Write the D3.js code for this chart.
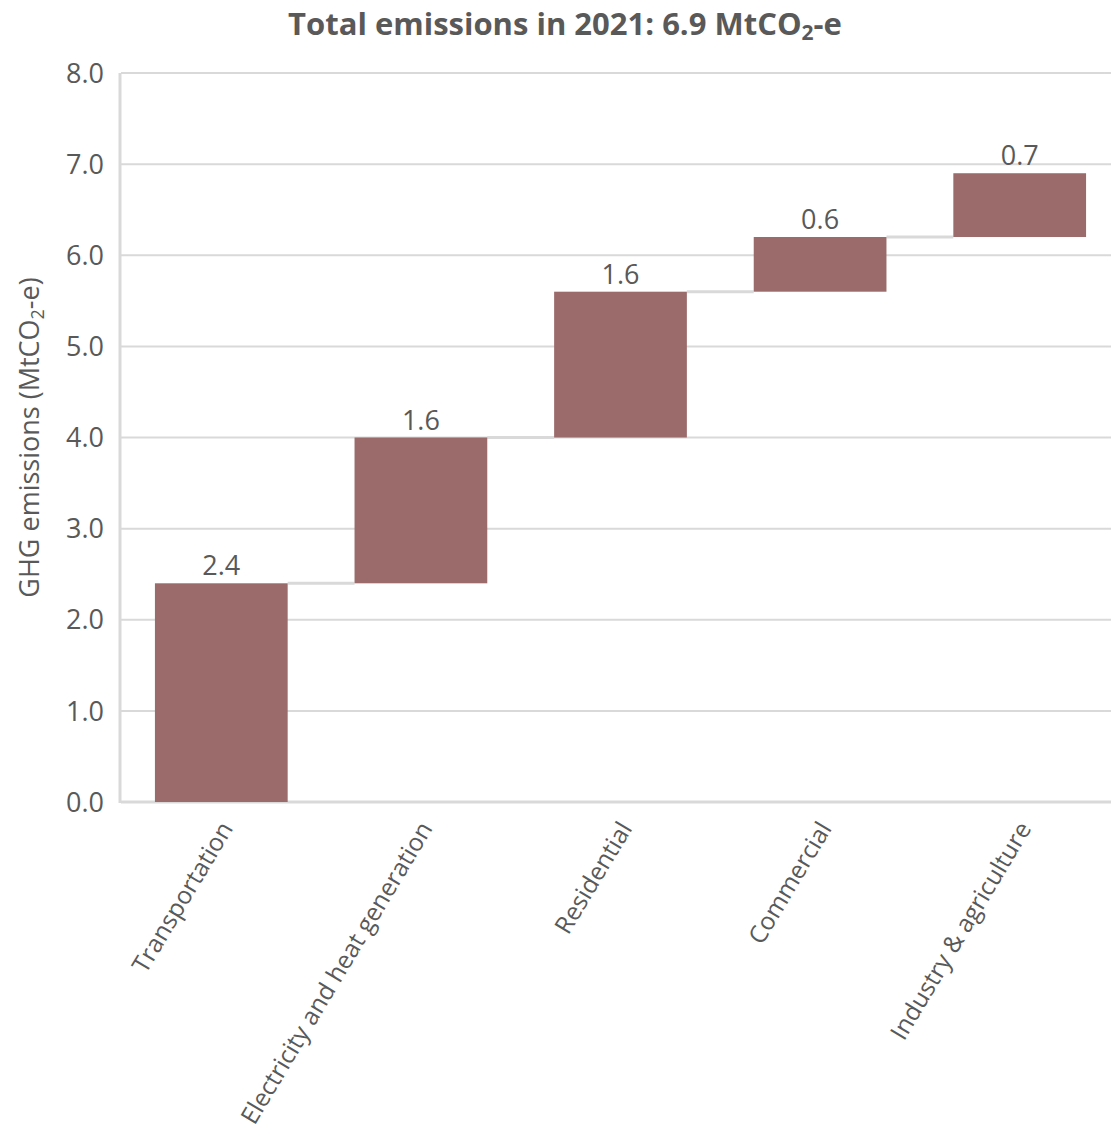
<!DOCTYPE html>
<html lang="en">
<head>
<meta charset="UTF-8">
<title>Total emissions in 2021</title>
<script src="https://d3js.org/d3.v7.min.js"></script>
<style>
  body { margin: 0; background: #fff; }
  text { font-family: "Open Sans", sans-serif; fill: #595959; }
</style>
</head>
<body>
<div id="chart"></div>
<script>
// sectors and their contribution (MtCO2-e)
const sectors = ["Transportation", "Electricity and heat generation", "Residential", "Commercial", "Industry & agriculture"];
const contributions = [2.4, 1.6, 1.6, 0.6, 0.7];
const yTicks = [0, 1, 2, 3, 4, 5, 6, 7, 8];

const width = 1111, height = 1134;
const margin = { top: 73, right: -9, bottom: 332, left: 121 };

// running totals for the waterfall
let run = 0;
const steps = sectors.map((s, i) => {
    const start = run;
    run = +(run + contributions[i]).toFixed(2);
    return { sector: s, value: contributions[i], start: start, end: run };
});

const svg = d3.select("#chart").append("svg")
    .attr("width", width)
    .attr("height", height);

const x = d3.scaleBand()
    .domain(sectors)
    .range([margin.left, width - margin.right])
    .paddingInner(0.335)
    .paddingOuter(0.17);

const y = d3.scaleLinear()
    .domain([0, 8])
    .range([height - margin.bottom, margin.top]);

// gridlines
svg.append("g")
    .selectAll("line")
    .data(yTicks)
    .join("line")
    .attr("x1", margin.left)
    .attr("x2", width)
    .attr("y1", d => y(d))
    .attr("y2", d => y(d))
    .attr("stroke", "#d9d9d9")
    .attr("stroke-width", d => d === 0 ? 3 : 2);

// y axis line
svg.append("line")
    .attr("x1", margin.left - 1).attr("x2", margin.left - 1)
    .attr("y1", y(8)).attr("y2", y(0) + 1)
    .attr("stroke", "#d9d9d9")
    .attr("stroke-width", 3);

// y tick labels
svg.append("g")
    .selectAll("text")
    .data(yTicks)
    .join("text")
    .attr("x", margin.left - 17)
    .attr("y", d => y(d))
    .attr("dy", "0.36em")
    .attr("text-anchor", "end")
    .attr("font-size", 27)
    .text(d => d3.format(".1f")(d));

// connectors between bars
svg.append("g")
    .selectAll("line")
    .data(steps.slice(0, -1))
    .join("line")
    .attr("x1", d => x(d.sector) + x.bandwidth())
    .attr("x2", (d, i) => x(steps[i + 1].sector))
    .attr("y1", d => y(d.end))
    .attr("y2", d => y(d.end))
    .attr("stroke", "#d9d9d9")
    .attr("stroke-width", 3);

// bars
svg.append("g")
    .selectAll("rect")
    .data(steps)
    .join("rect")
    .attr("x", d => x(d.sector))
    .attr("y", d => y(d.end))
    .attr("width", x.bandwidth())
    .attr("height", d => y(d.start) - y(d.end))
    .attr("fill", "#9b6a6a");

// value labels
svg.append("g")
    .selectAll("text")
    .data(steps)
    .join("text")
    .attr("x", d => x(d.sector) + x.bandwidth() / 2)
    .attr("y", d => y(d.end) - 8)
    .attr("text-anchor", "middle")
    .attr("font-size", 27)
    .text(d => d3.format(".1f")(d.value));

// category labels, rotated
svg.append("g")
    .selectAll("text")
    .data(sectors)
    .join("text")
    .attr("transform", d => `translate(${x(d) + x.bandwidth() / 2 + 5},${y(0) + 22}) rotate(-59)`)
    .attr("text-anchor", "end")
    .attr("dy", "0.35em")
    .attr("font-size", 24.5)
    .text(d => d);

// y axis title
const yt = svg.append("text")
    .attr("transform", `translate(39,${(y(0) + y(8)) / 2}) rotate(-90)`)
    .attr("text-anchor", "middle")
    .attr("font-size", 27);
yt.append("tspan").text("GHG emissions (MtCO");
yt.append("tspan").attr("font-size", 18).attr("baseline-shift", "-25%").text("2");
yt.append("tspan").text("-e)");

// chart title
const title = svg.append("text")
    .attr("x", 565)
    .attr("y", 35)
    .attr("text-anchor", "middle")
    .attr("font-size", 31)
    .attr("font-weight", "bold");
title.append("tspan").text("Total emissions in 2021: 6.9 MtCO");
title.append("tspan").attr("font-size", 21).attr("baseline-shift", "-25%").text("2");
title.append("tspan").text("-e");
</script>
</body>
</html>
